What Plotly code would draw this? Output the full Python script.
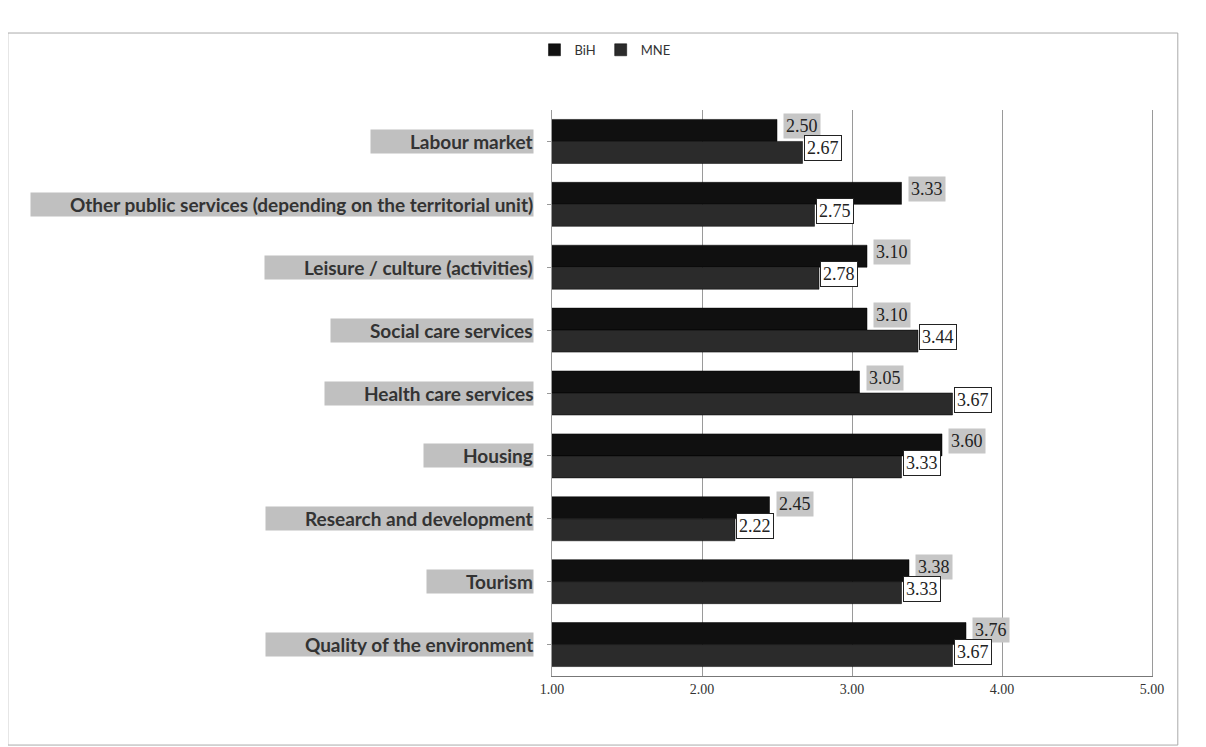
import plotly.graph_objects as go

categories = [
    "Labour market",
    "Other public services (depending on the territorial unit)",
    "Leisure / culture (activities)",
    "Social care services",
    "Health care services",
    "Housing",
    "Research and development",
    "Tourism",
    "Quality of the environment",
]
bih = [2.50, 3.33, 3.10, 3.10, 3.05, 3.60, 2.45, 3.38, 3.76]
mne = [2.67, 2.75, 2.78, 3.44, 3.67, 3.33, 2.22, 3.33, 3.67]
tick_vals = [1, 2, 3, 4, 5]
tick_text = ["1.00", "2.00", "3.00", "4.00", "5.00"]

fig = go.Figure()
fig.add_trace(go.Bar(y=categories, x=bih, name="BiH", orientation="h",
                     marker=dict(color="#101010", line=dict(color="#000", width=0.5))))
fig.add_trace(go.Bar(y=categories, x=mne, name="MNE", orientation="h",
                     marker=dict(color="#2b2b2b", line=dict(color="#000", width=0.5))))

ann = []
serif = "Liberation Serif"
for c, b, m in zip(categories, bih, mne):
    # category label
    ann.append(dict(x=-0.03, xref="paper", y=c, yref="y",
                    text="\u00a0" * 8 + "<b>" + c + "</b>",
                    xanchor="right", yanchor="middle", showarrow=False,
                    font=dict(family="Lato", size=19, color="#333333"),
                    bgcolor="#c0c0c0", borderpad=0))
    # BiH data label
    ann.append(dict(x=b, xref="x", y=c, yref="y", text=f"{b:.2f}", xanchor="left",
                    yanchor="middle", yshift=15, xshift=6, showarrow=False,
                    font=dict(family=serif, size=18, color="#222"),
                    bgcolor="#c6c6c6", borderpad=2))
    # MNE data label
    ann.append(dict(x=m, xref="x", y=c, yref="y", text=f"{m:.2f}", xanchor="left",
                    yanchor="middle", yshift=-7, xshift=1, showarrow=False,
                    font=dict(family=serif, size=18, color="#222"),
                    bgcolor="#ffffff", bordercolor="#222", borderwidth=1, borderpad=2))

fig.update_layout(
    width=1206, height=747,
    margin=dict(l=544, r=62, t=102, b=79, autoexpand=False),
    paper_bgcolor="white", plot_bgcolor="white",
    barmode="group", bargap=0.3, bargroupgap=0.0,
    legend=dict(orientation="h", xref="container", yref="container",
                x=0.495, y=0.944, xanchor="center", yanchor="middle",
                font=dict(family="Lato", size=13, color="#333"), traceorder="normal",
                itemwidth=30),
    xaxis=dict(range=[1, 5], tickvals=tick_vals, ticktext=tick_text,
               showgrid=True, gridcolor="#9a9a9a", gridwidth=1,
               showline=True, linecolor="#777", zeroline=False,
               ticks="", ticklen=0,
               tickfont=dict(family=serif, size=14, color="#333")),
    yaxis=dict(autorange="reversed", showticklabels=False, showline=True,
               mirror=True, linecolor="#9a9a9a", ticks="outside", ticklen=4,
               tickcolor="#999", showgrid=False),
    annotations=ann,
    shapes=[dict(type="rect", xref="paper", yref="paper", x0=-0.907, x1=1.043,
                 y0=-0.122, y1=1.136, line=dict(color="#aaa", width=1))],
    showlegend=True,
)

fig.write_html("out.html")
